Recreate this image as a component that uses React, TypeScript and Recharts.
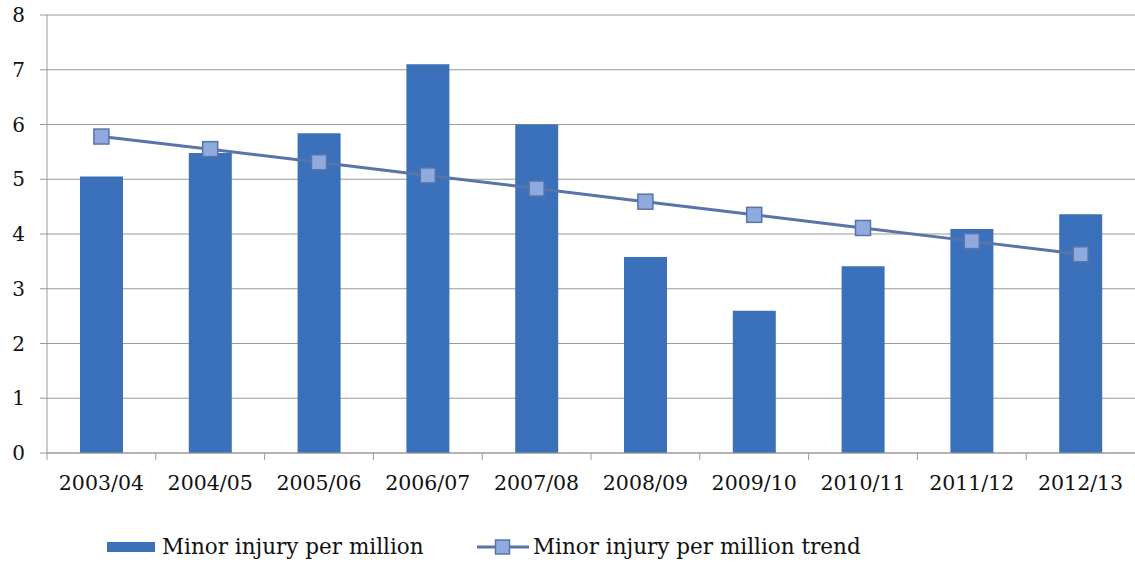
import { ComposedChart, Bar, Line, XAxis, YAxis, CartesianGrid, Legend } from 'recharts'

const categories = ['2003/04', '2004/05', '2005/06', '2006/07', '2007/08', '2008/09', '2009/10', '2010/11', '2011/12', '2012/13']
const minorInjury = [5.05, 5.48, 5.84, 7.1, 6.0, 3.58, 2.6, 3.41, 4.09, 4.36]
const minorInjuryTrend = [5.78, 5.55, 5.31, 5.07, 4.83, 4.59, 4.35, 4.11, 3.87, 3.63]
const yTicks = [0, 1, 2, 3, 4, 5, 6, 7, 8]

const data = categories.map((name, i) => ({
    name,
    value: minorInjury[i],
    trend: minorInjuryTrend[i]
}))

const FONT = '"DejaVu Serif", "Liberation Serif", serif'
const BAR_COLOR = '#3b71ba'
const LINE_COLOR = '#5874a8'
const MARKER_FILL = '#8eaade'
const AXIS_COLOR = '#9a9a9a'

const XTick = (props: any) => {
    const { x, y, payload } = props
    const half = payload.offset || 54.4
    return (
        <g>
            <line x1={x - half} y1={y} x2={x - half} y2={y + 7} stroke={AXIS_COLOR} strokeWidth={1} />
            <text x={x} y={y + 37} textAnchor="middle" fontFamily={FONT} fontSize={20.5} fill="#111">
                {payload.value}
            </text>
        </g>
    )
}

const SquareDot = (props: any) => {
    const { cx, cy, index } = props
    if (cx == null || cy == null) return null
    return (
        <rect
            key={`dot-${index}`}
            x={cx - 7.5}
            y={cy - 7.5}
            width={15}
            height={15}
            fill={MARKER_FILL}
            stroke={LINE_COLOR}
            strokeWidth={1.5}
        />
    )
}

const LegendContent = () => (
    <div style={{ position: 'relative', width: 1135, height: 30, fontFamily: FONT, fontSize: 21.5, color: '#111' }}>
        <div style={{ position: 'absolute', left: 107, top: 10, width: 48, height: 10, background: BAR_COLOR }} />
        <div style={{ position: 'absolute', left: 162, top: 3, lineHeight: '24px', whiteSpace: 'nowrap' }}>
            Minor injury per million
        </div>
        <svg style={{ position: 'absolute', left: 477, top: 7 }} width={52} height={16}>
            <line x1={0} y1={8} x2={52} y2={8} stroke={LINE_COLOR} strokeWidth={3} />
            <rect x={18.5} y={1} width={14} height={14} fill={MARKER_FILL} stroke={LINE_COLOR} strokeWidth={1.5} />
        </svg>
        <div style={{ position: 'absolute', left: 533, top: 3, lineHeight: '24px', whiteSpace: 'nowrap' }}>
            Minor injury per million trend
        </div>
    </div>
)

export default function App() {
    return (
        <div style={{ position: 'absolute', left: 0, top: 0, width: 1135, height: 562, background: '#fff' }}>
            <ComposedChart
                width={1135}
                height={562}
                data={data}
                margin={{ top: 15, right: 0, left: 0, bottom: 0 }}
            >
                <CartesianGrid vertical={false} stroke={AXIS_COLOR} strokeWidth={1} />
                <XAxis
                    dataKey="name"
                    axisLine={{ stroke: AXIS_COLOR }}
                    tickLine={false}
                    tickSize={0}
                    tickMargin={0}
                    interval={0}
                    height={79}
                    tick={<XTick />}
                />
                <YAxis
                    domain={[0, 8]}
                    ticks={yTicks}
                    interval={0}
                    width={47}
                    axisLine={{ stroke: AXIS_COLOR }}
                    tickLine={{ stroke: AXIS_COLOR }}
                    tickSize={7}
                    tickMargin={15}
                    tick={{ fill: '#111', fontFamily: FONT, fontSize: 20 }}
                />
                <Legend verticalAlign="bottom" height={30} content={<LegendContent />} />
                <Bar dataKey="value" fill={BAR_COLOR} barSize={43} isAnimationActive={false} />
                <Line
                    dataKey="trend"
                    stroke={LINE_COLOR}
                    strokeWidth={3}
                    dot={<SquareDot />}
                    activeDot={false}
                    isAnimationActive={false}
                />
            </ComposedChart>
        </div>
    )
}
